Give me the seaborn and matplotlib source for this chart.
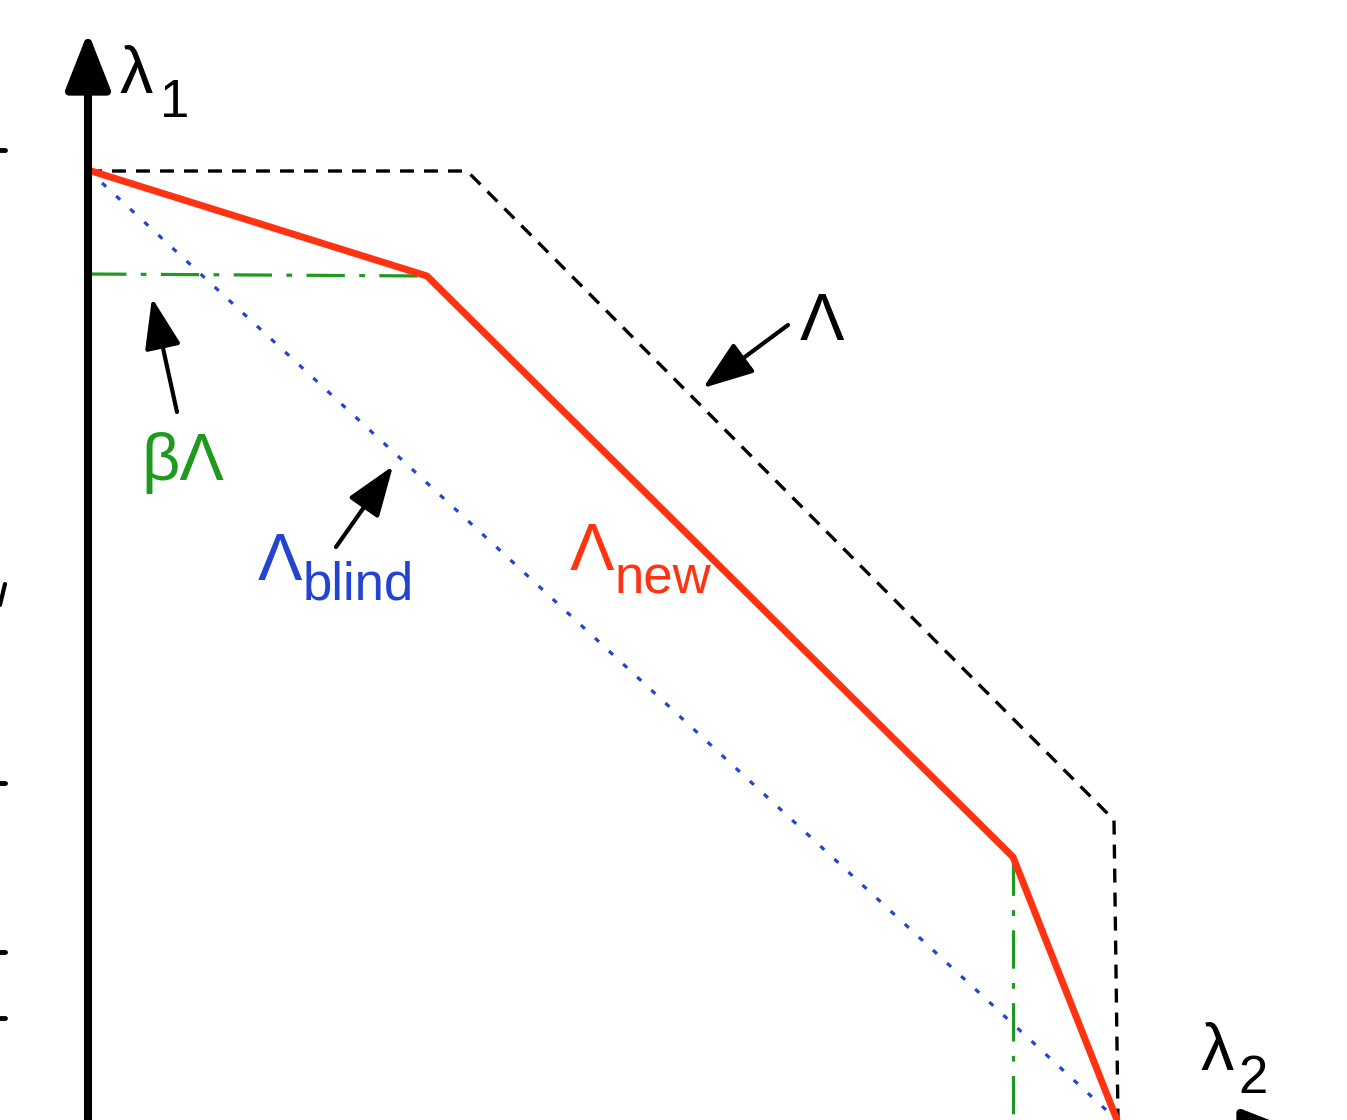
import numpy as np
import pandas as pd
import matplotlib
matplotlib.use("Agg")
import matplotlib.pyplot as plt
import seaborn as sns

# Diagram vertices (canvas coordinates, y grows downward)
lam_x = [88, 467, 1114, 1118]
lam_y = [171, 171, 820, 1120]

new_x = [88, 427, 1013, 1117]
new_y = [170, 276, 857, 1120]

beta_h_x = [88, 427]
beta_h_y = [274, 276]
beta_v_x = [1013, 1013]
beta_v_y = [857, 1120]

blind_x = [88, 1117]
blind_y = [170, 1120]

# annotation arrows: (tail, tip)
arrows = [((788, 325), (703, 388)),
          ((177, 412), (152, 298)),
          ((336, 547), (393, 466))]

# clipped label fragments along the left edge
edge_ticks_y = [150, 783, 952, 1018]

RED = "#ff3311"
GREEN = "#1f9a1f"
BLUE = "#2244d0"

sns.set_style("white")
plt.rcParams['font.family'] = ['Liberation Sans', 'DejaVu Sans']
plt.rcParams['text.color'] = 'black'

fig = plt.figure(figsize=(13.47, 11.2), dpi=100)
ax = fig.add_axes([0, 0, 1, 1])
ax.set_xlim(0, 1347)
ax.set_ylim(1120, 0)
ax.axis("off")


def draw(xs, ys, **kw):
    df = pd.DataFrame({"x": xs, "y": ys})
    sns.lineplot(data=df, x="x", y="y", sort=False, estimator=None, ax=ax, **kw)


draw(blind_x, blind_y, color=BLUE, lw=2.3, linestyle=(0, (1.7, 4.3)))
draw(beta_h_x, beta_h_y, color=GREEN, lw=2.3, linestyle=(0, (12, 4.5, 1.8, 4.5)))
draw(beta_v_x, beta_v_y, color=GREEN, lw=2.3, linestyle=(0, (12, 4.5, 1.8, 4.5)))
draw(lam_x, lam_y, color="black", lw=2.4, linestyle=(0, (4.2, 3)))
draw(new_x, new_y, color=RED, lw=5, solid_joinstyle="miter")

# axes with arrowheads
ax.annotate("", xy=(88, 32), xytext=(88, 1140), annotation_clip=False,
            arrowprops=dict(arrowstyle="-|>,head_length=1.4,head_width=0.55",
                            mutation_scale=25, lw=5.8, color="black",
                            shrinkA=0, shrinkB=0))
ax.annotate("", xy=(1300, 1132), xytext=(60, 1132), annotation_clip=False,
            arrowprops=dict(arrowstyle="-|>,head_length=1.4,head_width=0.55",
                            mutation_scale=25, lw=5.8, color="black",
                            shrinkA=0, shrinkB=0))

for tail, tip in arrows:
    ax.annotate("", xy=tip, xytext=tail,
                arrowprops=dict(arrowstyle="-|>,head_length=1.25,head_width=0.45",
                                mutation_scale=25, lw=3, color="black",
                                shrinkA=0, shrinkB=0))

for y in edge_ticks_y:
    ax.plot([0, 5], [y, y], color="black", lw=3.5)
ax.plot([0, 5], [605, 584], color="black", lw=3)

big = 48
sub = 38
ax.text(120, 93, "λ", fontsize=big, ha="left", va="baseline", color="black")
ax.text(160, 117, "1", fontsize=sub, ha="left", va="baseline", color="black")
ax.text(1201, 1070, "λ", fontsize=big, ha="left", va="baseline", color="black")
ax.text(1238, 1093, "2", fontsize=sub, ha="left", va="baseline", color="black")
ax.text(800, 340, "Λ", fontsize=big, ha="left", va="baseline", color="black")
ax.text(141, 480, "βΛ", fontsize=big, ha="left", va="baseline", color=GREEN)
ax.text(258, 580, "Λ", fontsize=big, ha="left", va="baseline", color=BLUE)
ax.text(303, 600, "blind", fontsize=sub, ha="left", va="baseline", color=BLUE)
ax.text(570, 570, "Λ", fontsize=big, ha="left", va="baseline", color=RED)
ax.text(615, 594, "new", fontsize=sub, ha="left", va="baseline", color=RED)

fig.savefig("out.png", dpi=100)
